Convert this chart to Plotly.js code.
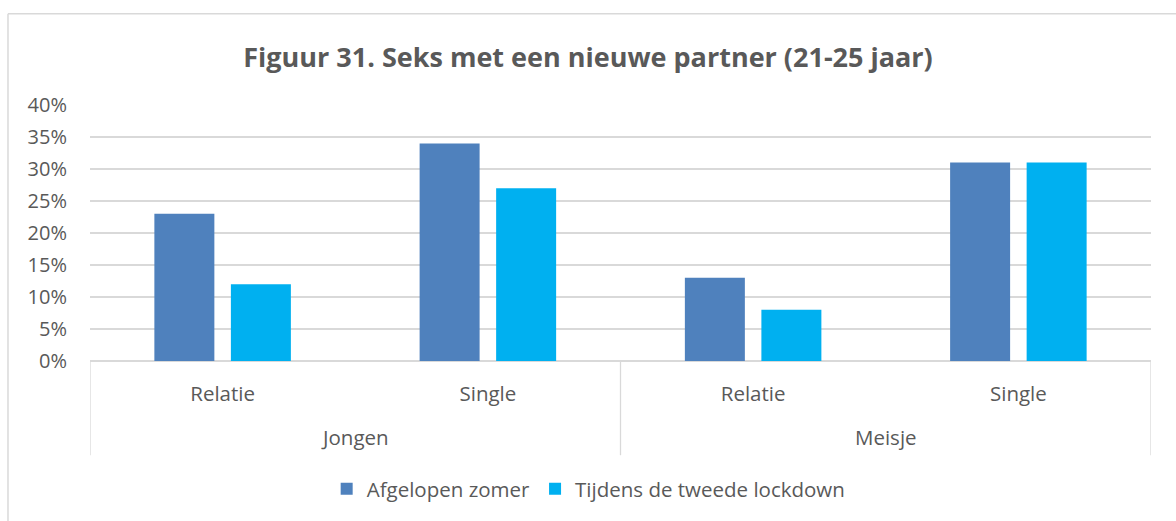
<!DOCTYPE html>
<html>
<head>
<meta charset="utf-8">
<script src="https://cdn.plot.ly/plotly-3.0.1.min.js"></script>
<style>html,body{margin:0;padding:0;background:#fff;}#chart{width:1176px;height:521px;}</style>
</head>
<body>
<div id="chart"></div>
<script>
const groups = ["Jongen", "Jongen", "Meisje", "Meisje"];
const subcats = ["Relatie", "Single", "Relatie", "Single"];
const seriesNames = ["Afgelopen zomer", "Tijdens de tweede lockdown"];
const afgelopenZomer = [0.23, 0.34, 0.13, 0.31];
const tweedeLockdown = [0.12, 0.27, 0.08, 0.31];
const yTicks = [0, 0.05, 0.10, 0.15, 0.20, 0.25, 0.30, 0.35, 0.40];
const colors = ["#4F81BD", "#00B0F0"];

const xIdx = subcats.map((_, i) => i);
const FONT = "Open Sans, sans-serif";
const TXT = "#595959";
const GRID = "#d9d9d9";

const traces = [afgelopenZomer, tweedeLockdown].map((vals, k) => ({
  type: "bar",
  name: seriesNames[k],
  x: xIdx,
  y: vals,
  marker: {color: colors[k]},
  hoverinfo: "skip"
}));

// group labels & dividers
const uniqueGroups = [...new Set(groups)];
const annotations = uniqueGroups.map(g => {
  const idx = groups.map((v, i) => v === g ? i : -1).filter(i => i >= 0);
  const mid = (idx[0] + idx[idx.length - 1]) / 2;
  return {text: g, x: mid, xref: "x", y: -0.2984, yref: "paper",
          showarrow: false, xanchor: "center", yanchor: "middle",
          font: {family: FONT, size: 20.5, color: TXT}};
});
const dividerXs = [-0.5];
uniqueGroups.forEach(g => { dividerXs.push(groups.lastIndexOf(g) + 0.5); });
const shapes = dividerXs.map(x => ({
  type: "line", xref: "x", yref: "paper", x0: x, x1: x, y0: 0, y1: -0.368,
  line: {color: GRID, width: 1.3}
}));
// chart area border (top and left)
shapes.push({type: "line", xref: "paper", yref: "paper", x0: -0.0773, x1: 1.1, y0: 1.3566, y1: 1.3566, line: {color: GRID, width: 1.5}});
shapes.push({type: "line", xref: "paper", yref: "paper", x0: -0.0773, x1: -0.0773, y0: 1.3566, y1: -0.7, line: {color: GRID, width: 1.5}});

const layout = {
  width: 1176, height: 521,
  margin: {l: 90, r: 25, t: 105, b: 158},
  paper_bgcolor: "#fff", plot_bgcolor: "#fff",
  font: {family: FONT, color: TXT},
  title: {text: "<b>Figuur 31. Seks met een nieuwe partner (21-25 jaar)</b>",
          x: 0.5, xref: "container", xanchor: "center",
          y: 1 - 58 / 521, yref: "container", yanchor: "middle",
          font: {family: FONT, size: 27, color: TXT}},
  barmode: "group",
  bargap: 0.423,
  bargroupgap: 0.216,
  xaxis: {
    range: [-0.5, 3.5], tickvals: xIdx, ticktext: subcats,
    showgrid: false, zeroline: false, showline: false, ticks: "",
    ticklabelstandoff: 18,
    tickfont: {family: FONT, size: 20.5, color: TXT}, fixedrange: true
  },
  yaxis: {
    range: [0, 0.4], tickvals: yTicks, tickformat: ".0%",
    showgrid: true, gridcolor: GRID, gridwidth: 1.3,
    zeroline: true, zerolinecolor: GRID, zerolinewidth: 1.3,
    showline: false, ticks: "", ticklabelstandoff: 22,
    tickfont: {family: FONT, size: 20, color: TXT}, fixedrange: true
  },
  legend: {orientation: "h", x: 0.47, xanchor: "center", y: -0.5, yanchor: "middle",
           font: {family: FONT, size: 20.5, color: TXT}, itemwidth: 30, traceorder: "normal"},
  annotations: annotations,
  shapes: shapes
};

Plotly.newPlot("chart", traces, layout, {displayModeBar: false, staticPlot: true});
</script>
</body>
</html>
